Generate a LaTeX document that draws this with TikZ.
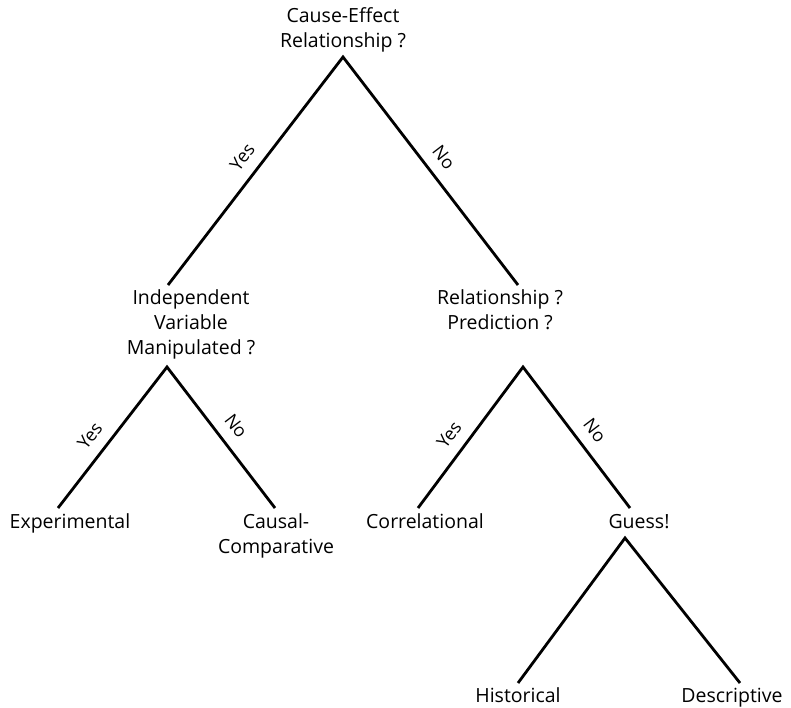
\documentclass[tikz,border=0pt]{standalone}
\usepackage{fontspec}
\setmainfont{Open Sans}
\begin{document}
\begin{tikzpicture}[x=1pt,y=-1pt,
  txt/.style={inner sep=0pt,align=center,font=\fontsize{19.5}{25}\selectfont,anchor=base},
  branch/.style={line width=2.8pt,line cap=butt},
  lbl/.style={font=\fontsize{18}{20}\selectfont,inner sep=0pt}]
\useasboundingbox (0,0) rectangle (791,707);
% texts (positioned by baseline of last line)
\node[txt] (root) at (343,47) {Cause-Effect\\Relationship ?};
\node[txt] (ivm) at (191,354) {Independent\\Variable\\Manipulated ?};
\node[txt] (rp) at (500,329) {Relationship ?\\Prediction ?};
\node[txt] (exp) at (70,528) {Experimental};
\node[txt] (cc) at (276,553) {Causal-\\Comparative};
\node[txt] (cor) at (425,528) {Correlational};
\node[txt] (gue) at (639,528) {Guess!};
\node[txt] (his) at (518,702) {Historical};
\node[txt] (des) at (732,702) {Descriptive};
% apex and end coordinates
\coordinate (a0) at (343,57);
\coordinate (e0l) at (168,285);
\coordinate (e0r) at (518,285);
\coordinate (a1) at (167,367);
\coordinate (e1l) at (58,508);
\coordinate (e1r) at (275,508);
\coordinate (a2) at (523,367);
\coordinate (e2l) at (418,508);
\coordinate (e2r) at (630,508);
\coordinate (a3) at (625,538);
\coordinate (e3l) at (518,683);
\coordinate (e3r) at (740,683);
% branches
\draw[branch] (e0l) -- node[lbl,sloped,above=11pt,pos=0.51] {Yes} (a0) -- node[lbl,sloped,above=11pt,pos=0.49] {No} (e0r);
\draw[branch] (e1l) -- node[lbl,sloped,above=11pt,pos=0.43] {Yes} (a1) -- node[lbl,sloped,above=11pt,pos=0.50] {No} (e1r);
\draw[branch] (e2l) -- node[lbl,sloped,above=11pt,pos=0.44] {Yes} (a2) -- node[lbl,sloped,above=11pt,pos=0.53] {No} (e2r);
\draw[branch] (e3l) -- (a3) -- (e3r);
\end{tikzpicture}
\end{document}
